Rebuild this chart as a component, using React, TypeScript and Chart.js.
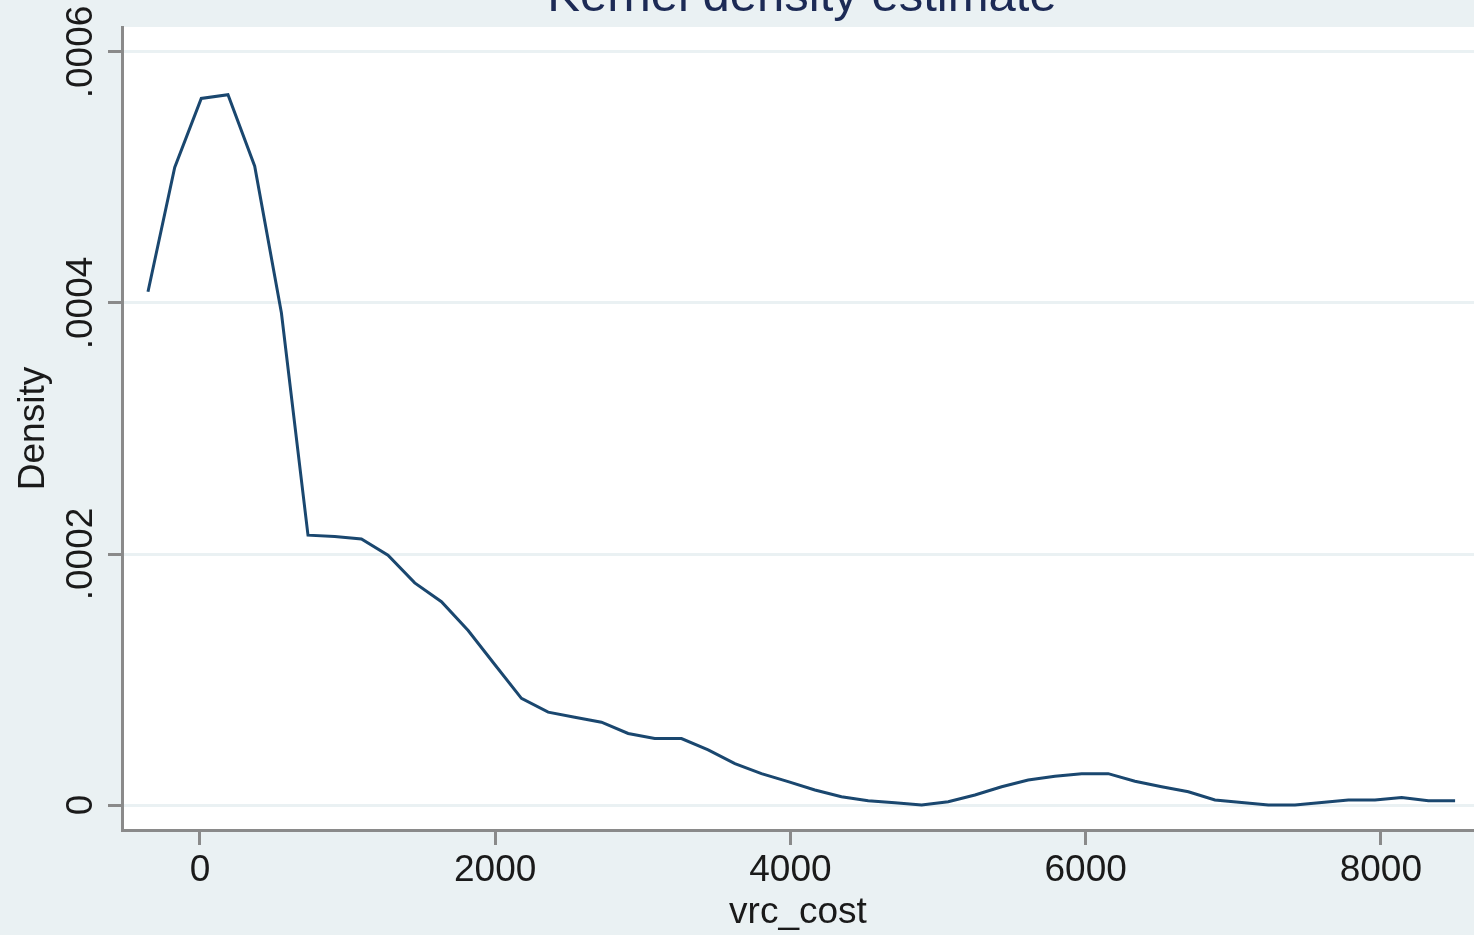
import React, { useEffect, useRef } from "react";
import { Chart, registerables } from "chart.js";

Chart.register(...registerables);

// Evaluation points of the kernel density estimate (vrc_cost)
const xValues = [
  -352, -171, 9, 190, 371, 552, 732, 913, 1094, 1274,
  1455, 1636, 1817, 1997, 2178, 2359, 2539, 2720, 2901, 3081,
  3262, 3443, 3624, 3804, 3985, 4166, 4346, 4527, 4708, 4889,
  5069, 5250, 5431, 5611, 5792, 5973, 6153, 6334, 6515, 6696,
  6876, 7057, 7238, 7418, 7599, 7780, 7960, 8141, 8322, 8503,
];

// Estimated density values
const densityValues = [
  0.000409, 0.000508, 0.000563, 0.000566, 0.000509, 0.000392, 0.000215, 0.000214, 0.000212, 0.000199,
  0.000177, 0.000162, 0.000139, 0.000112, 0.000085, 0.000074, 0.00007, 0.000066, 0.000057, 0.000053,
  0.000053, 0.000044, 0.000033, 0.000025, 0.0000186, 0.000012, 0.0000066, 0.0000034, 0.0000018, 0.0,
  0.0000026, 0.000008, 0.0000146, 0.00002, 0.000023, 0.000025, 0.000025, 0.000019, 0.0000146, 0.0000106,
  0.000004, 0.000002, 0.0, 0.0, 0.000002, 0.000004, 0.000004, 0.000006, 0.0000034, 0.0000034,
];

const xTickValues = [0, 2000, 4000, 6000, 8000];
const yTickValues = [0, 0.0002, 0.0004, 0.0006];
const yTickLabels = ["0", ".0002", ".0004", ".0006"];

const chartTitle = "Kernel density estimate";
const xAxisTitle = "vrc_cost";
const yAxisTitle = "Density";

const FONT = "'Liberation Sans', Arial, sans-serif";
const OUTER_BG = "#eaf1f3";
const AXIS_GRAY = "#8a8a8a";
const GRID = "#eaf1f3";
const TEXT = "#1a1a1a";

const backgroundPlugin = {
  id: "stataBackground",
  beforeDraw(chart: any) {
    const { ctx, chartArea, width, height } = chart;
    ctx.save();
    ctx.fillStyle = OUTER_BG;
    ctx.fillRect(0, 0, width, height);
    ctx.fillStyle = "#ffffff";
    ctx.fillRect(chartArea.left, chartArea.top, chartArea.right - chartArea.left, chartArea.bottom - chartArea.top);
    ctx.restore();
  },
};

const textPlugin = {
  id: "stataText",
  afterDraw(chart: any) {
    const { ctx } = chart;
    const yScale = chart.scales.y;
    ctx.save();
    // title (partly cut off at the top in the reference)
    ctx.fillStyle = "#1c2a55";
    ctx.font = `49px ${FONT}`;
    ctx.textAlign = "center";
    ctx.textBaseline = "alphabetic";
    ctx.fillText(chartTitle, 802, 11);
    // rotated y tick labels
    ctx.fillStyle = TEXT;
    ctx.font = `37px ${FONT}`;
    yTickValues.forEach((v, i) => {
      const py = yScale.getPixelForValue(v);
      ctx.save();
      ctx.translate(92, py);
      ctx.rotate(-Math.PI / 2);
      ctx.textAlign = "center";
      ctx.textBaseline = "alphabetic";
      ctx.fillText(yTickLabels[i], 0, 0);
      ctx.restore();
    });
    ctx.restore();
  },
};

export default function App() {
  const canvasRef = useRef<HTMLCanvasElement | null>(null);

  useEffect(() => {
    if (!canvasRef.current) return;
    const chart = new Chart(canvasRef.current, {
      type: "line",
      data: {
        datasets: [
          {
            label: "density",
            data: xValues.map((x, i) => ({ x, y: densityValues[i] })),
            borderColor: "#1a476f",
            borderWidth: 3,
            pointRadius: 0,
            tension: 0,
            fill: false,
          },
        ],
      },
      options: {
        animation: false,
        responsive: false,
        layout: { padding: { top: 27, right: 0, bottom: 0, left: 0 } },
        plugins: {
          legend: { display: false },
          tooltip: { enabled: false },
          title: { display: false },
        },
        scales: {
          x: {
            type: "linear",
            min: -528,
            max: 8631,
            afterBuildTicks: (scale: any) => {
              scale.ticks = xTickValues.map((v) => ({ value: v }));
            },
            afterFit: (scale: any) => {
              scale.height = 105;
            },
            ticks: {
              color: TEXT,
              font: { family: FONT, size: 37 },
              padding: 4,
              maxRotation: 0,
              minRotation: 0,
              callback: (v: any) => String(v),
            },
            grid: {
              drawOnChartArea: false,
              drawTicks: true,
              tickLength: 15,
              tickWidth: 3,
              tickColor: AXIS_GRAY,
              color: "rgba(0,0,0,0)",
            },
            border: { display: true, color: AXIS_GRAY, width: 3 },
            title: {
              display: true,
              text: xAxisTitle,
              color: TEXT,
              font: { family: FONT, size: 37 },
              padding: { top: 0, bottom: 0 },
            },
          },
          y: {
            type: "linear",
            min: -0.0000199,
            max: 0.0006199,
            afterBuildTicks: (scale: any) => {
              scale.ticks = yTickValues.map((v) => ({ value: v }));
            },
            afterFit: (scale: any) => {
              scale.width = 122;
            },
            ticks: { display: false },
            grid: {
              drawOnChartArea: true,
              drawTicks: true,
              tickLength: 14,
              tickWidth: 3,
              tickColor: AXIS_GRAY,
              color: GRID,
              lineWidth: 3,
            },
            border: { display: true, color: AXIS_GRAY, width: 3 },
            title: {
              display: true,
              text: yAxisTitle,
              color: TEXT,
              font: { family: FONT, size: 37 },
              padding: { top: 12, bottom: 0 },
            },
          },
        },
      },
      plugins: [backgroundPlugin, textPlugin],
    });
    return () => chart.destroy();
  }, []);

  return (
    <div
      style={{
        position: "fixed",
        left: 0,
        top: 0,
        width: 1474,
        height: 935,
        background: OUTER_BG,
        overflow: "hidden",
      }}
    >
      <canvas ref={canvasRef} width={1474} height={935} style={{ display: "block" }} />
    </div>
  );
}
